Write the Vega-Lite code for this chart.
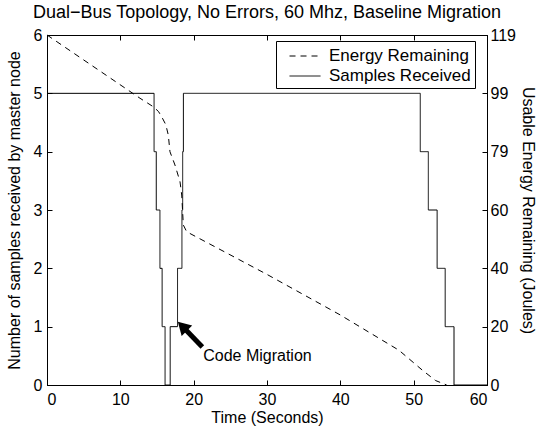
{
  "$schema": "https://vega.github.io/schema/vega-lite/v6.json",
  "width": 440,
  "height": 350,
  "autosize": {"type": "none"},
  "padding": {"left": 47, "top": 35, "right": 51, "bottom": 43},
  "background": "white",
  "title": {"text": "Dual−Bus Topology, No Errors, 60 Mhz, Baseline Migration", "fontSize": 18, "fontWeight": "normal", "font": "Liberation Sans", "offset": 5, "color": "black", "anchor": "middle"},
  "config": {
    "view": {"stroke": "black", "strokeWidth": 1},
    "font": "Liberation Sans",
    "axis": {"grid": false, "domainColor": "black", "tickColor": "black", "labelColor": "black", "titleColor": "black", "labelFontSize": 16, "titleFontSize": 16, "titleFontWeight": "normal", "tickSize": -5, "labelFont": "Liberation Sans", "titleFont": "Liberation Sans"},
    "legend": {"orient": "none", "legendX": 229, "legendY": 6, "strokeColor": "black", "fillColor": "white", "padding": 4, "rowPadding": 1, "labelFontSize": 17, "labelFont": "Liberation Sans", "labelColor": "black", "symbolType": "M-0.14,0H2.81", "symbolSize": 441, "symbolStrokeWidth": 1, "symbolStrokeColor": "black", "labelOffset": 27, "title": null}
  },
  "datasets": {
    "samples": [
      {"t": 0, "n": 5, "series": "Samples Received"},
      {"t": 14.6, "n": 4, "series": "Samples Received"},
      {"t": 14.9, "n": 3, "series": "Samples Received"},
      {"t": 15.4, "n": 2, "series": "Samples Received"},
      {"t": 15.7, "n": 1, "series": "Samples Received"},
      {"t": 16.1, "n": 0, "series": "Samples Received"},
      {"t": 16.8, "n": 1, "series": "Samples Received"},
      {"t": 17.8, "n": 2, "series": "Samples Received"},
      {"t": 18.4, "n": 3, "series": "Samples Received"},
      {"t": 18.5, "n": 4, "series": "Samples Received"},
      {"t": 18.6, "n": 5, "series": "Samples Received"},
      {"t": 50.9, "n": 4, "series": "Samples Received"},
      {"t": 52.0, "n": 3, "series": "Samples Received"},
      {"t": 53.2, "n": 2, "series": "Samples Received"},
      {"t": 54.3, "n": 1, "series": "Samples Received"},
      {"t": 55.5, "n": 0, "series": "Samples Received"},
      {"t": 60, "n": 0, "series": "Samples Received"}
    ],
    "energy": [
      {"t": 0, "e": 119, "series": "Energy Remaining"},
      {"t": 12.68, "e": 97.5, "series": "Energy Remaining"},
      {"t": 14.5, "e": 94.6, "series": "Energy Remaining"},
      {"t": 15.2, "e": 93.0, "series": "Energy Remaining"},
      {"t": 15.64, "e": 91.2, "series": "Energy Remaining"},
      {"t": 16.2, "e": 88.5, "series": "Energy Remaining"},
      {"t": 16.54, "e": 85.0, "series": "Energy Remaining"},
      {"t": 16.77, "e": 79.3, "series": "Energy Remaining"},
      {"t": 17.45, "e": 74.8, "series": "Energy Remaining"},
      {"t": 18.14, "e": 69.1, "series": "Energy Remaining"},
      {"t": 18.37, "e": 64.6, "series": "Energy Remaining"},
      {"t": 18.59, "e": 54.4, "series": "Energy Remaining"},
      {"t": 19.05, "e": 52.1, "series": "Energy Remaining"},
      {"t": 30, "e": 37.6, "series": "Energy Remaining"},
      {"t": 40, "e": 23.8, "series": "Energy Remaining"},
      {"t": 48, "e": 11.8, "series": "Energy Remaining"},
      {"t": 51.3, "e": 4.8, "series": "Energy Remaining"},
      {"t": 53, "e": 1.5, "series": "Energy Remaining"},
      {"t": 54.5, "e": 0, "series": "Energy Remaining"}
    ],
    "arrow": [
      {"t": 18.46, "n": 1.006, "t2": 21.18, "n2": 0.65}
    ],
    "label": [
      {"t": 21.3, "n": 0.5, "label": "Code Migration"}
    ]
  },
  "layer": [
    {
      "encoding": {
        "x": {"field": "t", "type": "quantitative", "scale": {"domain": [0, 60], "nice": false}, "axis": {"orient": "bottom", "values": [0, 10, 20, 30, 40, 50, 60], "title": "Time (Seconds)", "labelPadding": 11, "titleX": 220, "titleY": 37, "titleAlign": "center", "titleBaseline": "alphabetic"}},
        "y": {"field": "n", "type": "quantitative", "scale": {"domain": [0, 6], "nice": false}, "axis": {"orient": "left", "values": [0, 1, 2, 3, 4, 5, 6], "title": "Number of samples received by master node", "labelPadding": 10, "titleX": -33, "titleY": 175, "titleAngle": -90, "titleAlign": "center", "titleBaseline": "middle"}}
      },
      "layer": [
        {
          "data": {"name": "samples"},
          "mark": {"type": "line", "interpolate": "step-after", "color": "black", "strokeWidth": 1},
          "encoding": {
            "strokeDash": {"field": "series", "type": "nominal", "scale": {"domain": ["Energy Remaining", "Samples Received"], "range": [[6, 5], [1, 0]]}}
          }
        },
        {
          "data": {"name": "arrow"},
          "mark": {"type": "rule", "strokeWidth": 5, "color": "black"},
          "encoding": {"x2": {"field": "t2"}, "y2": {"field": "n2"}}
        },
        {
          "data": {"name": "arrow"},
          "mark": {"type": "point", "shape": "triangle-up", "filled": true, "color": "black", "opacity": 1, "size": 220, "angle": 315}
        },
        {
          "data": {"name": "label"},
          "mark": {"type": "text", "align": "left", "baseline": "middle", "fontSize": 16, "font": "Liberation Sans", "color": "black"},
          "encoding": {"text": {"field": "label"}}
        }
      ]
    },
    {
      "data": {"name": "energy"},
      "mark": {"type": "line", "color": "black", "strokeWidth": 1},
      "encoding": {
        "x": {"field": "t", "type": "quantitative", "scale": {"domain": [0, 60], "nice": false}, "axis": {"orient": "top", "values": [0, 10, 20, 30, 40, 50, 60], "labels": false, "title": null}},
        "y": {"field": "e", "type": "quantitative", "scale": {"domain": [0, 119], "nice": false}, "axis": {"orient": "right", "values": [0, 19.8333, 39.6667, 59.5, 79.3333, 99.1667, 119], "format": ".0f", "title": "Usable Energy Remaining (Joules)", "labelPadding": 8, "titleX": 40, "titleY": 175, "titleAngle": 90, "titleAlign": "center", "titleBaseline": "middle"}},
        "strokeDash": {"field": "series", "type": "nominal", "scale": {"domain": ["Energy Remaining", "Samples Received"], "range": [[6, 5], [1, 0]]}}
      }
    }
  ],
  "resolve": {"scale": {"y": "independent"}, "axis": {"x": "independent"}}
}
